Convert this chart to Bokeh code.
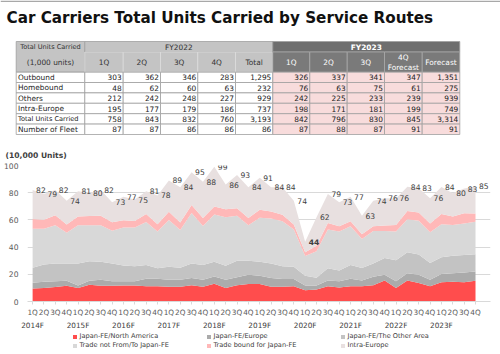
from bokeh.plotting import figure
from bokeh.layouts import column
from bokeh.models import (Range1d, FixedTicker, LinearAxis, ColumnDataSource, LabelSet)
from bokeh.core.properties import value
from bokeh.embed import file_html
from bokeh.resources import INLINE

FONT = "DejaVu Sans"

TITLE = "Car Carriers Total Units Carried by Service Routes"

# ---------------- table data (1,000 units) ----------------
table_rows = ["Outbound", "Homebound", "Others", "Intra-Europe",
              "Total Units Carried", "Number of Fleet"]
fy2022_cols = ["1Q", "2Q", "3Q", "4Q", "Total"]
fy2023_cols = ["1Q", "2Q", "3Q", "4Q|Forecast", "Forecast"]
outbound_row = [303, 362, 346, 283, 1295, 326, 337, 341, 347, 1351]
homebound_row = [48, 62, 60, 63, 232, 76, 63, 75, 61, 275]
others_row = [212, 242, 248, 227, 929, 242, 225, 233, 239, 939]
intra_europe_row = [195, 177, 179, 186, 737, 198, 171, 181, 199, 749]
total_row = [758, 843, 832, 760, 3193, 842, 796, 830, 845, 3314]
fleet_row = [87, 87, 86, 86, 86, 87, 88, 87, 91, 91]

# ---------------- chart data (10,000 units) ----------------
fiscal_years = ["2014F", "2015F", "2016F", "2017F", "2018F",
                "2019F", "2020F", "2021F", "2022F", "2023F"]
quarters = ["1Q", "2Q", "3Q", "4Q"]

japan_north_america = [9.6, 10.0, 10.6, 11.5, 10.0, 12.4, 11.5, 11.5, 11.7, 11.7,
                       11.2, 11.2, 10.8, 10.8, 12.0, 10.8, 13.1, 10.0, 12.0, 12.9,
                       12.9, 10.8, 10.8, 11.2, 8.3, 8.8, 11.2, 10.3, 11.2, 11.2,
                       12.0, 15.5, 10.0, 15.5, 13.6, 11.2, 14.1, 14.6, 14.1, 15.3]
japan_europe = [4.2, 4.5, 4.2, 3.8, 1.7, 2.9, 4.5, 3.3, 3.1, 3.1,
                5.5, 5.5, 5.2, 5.2, 5.2, 5.2, 5.3, 6.0, 5.9, 6.7,
                6.0, 6.4, 5.7, 5.3, 3.4, 2.9, 4.3, 4.5, 5.6, 4.3,
                6.2, 4.1, 4.8, 5.3, 6.0, 4.8, 6.2, 6.2, 7.2, 6.7]
japan_other_area = [11.1, 12.7, 13.2, 12.7, 16.3, 14.3, 13.2, 13.2, 11.7, 11.2,
                    10.1, 7.7, 9.6, 8.9, 10.8, 10.8, 10.8, 10.3, 12.0, 10.3,
                    10.3, 10.8, 9.5, 9.1, 7.3, 5.8, 8.9, 8.0, 10.0, 9.1,
                    9.8, 12.4, 15.5, 15.4, 15.0, 12.3, 12.3, 12.9, 12.8, 12.7]
trade_not_japan = [28.6, 26.3, 28.0, 22.5, 28.0, 26.4, 26.8, 24.0, 28.0, 28.5,
                   31.7, 27.1, 34.4, 27.6, 37.0, 28.7, 34.8, 35.7, 33.1, 26.1,
                   32.3, 33.0, 33.0, 27.4, 14.5, 19.5, 28.6, 28.7, 28.6, 21.4,
                   23.8, 19.9, 21.2, 24.2, 24.8, 22.7, 24.2, 22.5, 23.3, 23.9]
trade_bound_japan = [7.2, 6.7, 7.5, 6.1, 6.5, 6.8, 7.0, 6.3, 5.3, 4.7,
                     5.8, 5.3, 6.0, 5.5, 6.0, 5.9, 5.8, 5.9, 5.6, 5.4,
                     5.9, 5.2, 4.8, 3.6, 2.8, 4.0, 4.8, 3.9, 3.6, 3.5,
                     3.6, 4.0, 4.8, 6.2, 6.0, 6.3, 7.6, 6.3, 7.5, 6.1]
intra_europe = [21.3, 18.8, 18.5, 17.4, 18.5, 17.2, 19.0, 14.7, 17.2, 15.8,
                16.7, 21.2, 23.0, 26.0, 24.0, 26.6, 29.2, 18.1, 24.4, 22.6,
                23.6, 17.8, 20.2, 17.4, 7.7, 21.0, 21.2, 17.6, 18.0, 13.5,
                18.6, 20.1, 19.5, 17.7, 17.9, 18.6, 19.8, 17.1, 18.1, 19.9]
total_labels = [82, 79, 82, 74, 81, 80, 82, 73, 77, 75,
                81, 78, 89, 84, 95, 88, 99, 86, 93, 84,
                91, 84, 84, 74, 44, 62, 79, 73, 77, 63,
                74, 76, 76, 84, 83, 76, 84, 80, 83, 85]

series_names = ["Japan-FE/North America", "Japan-FE/Europe", "Japan-FE/The Other Area",
                "Trade not From/To Japan-FE", "Trade bound for Japan-FE", "Intra-Europe"]
series_colors = ["#ff4d4d", "#ababab", "#c3c3c3", "#d8d8d8", "#ffb8b8", "#e8e0e0"]
stack_cols = ["s0", "s1", "s2", "s3", "s4", "s5"]


def no_align(fig):
    if "frame_align" in fig.properties():
        fig.frame_align = False


def bare(fig):
    no_align(fig)
    fig.xgrid.visible = False
    fig.ygrid.visible = False
    fig.outline_line_color = None


# ================= table figure =================
tf = figure(width=500, height=140, x_range=Range1d(0, 500), y_range=Range1d(140, 0),
            output_backend="svg", toolbar_location=None, min_border=0,
            x_axis_location=None, y_axis_location=None)
bare(tf)

tf.quad(left=[0], right=[500], top=[0], bottom=[1.5], fill_color="#a8a8a8", line_color=None)
tf.text(x=[6], y=[17.5], text=[TITLE], text_font=value(FONT), text_font_style="bold",
        text_font_size="15.2px", text_color="#111111", text_baseline="alphabetic")

col_x = [15.7, 84.3, 122.7, 160.0, 197.3, 235.0, 272.3, 309.3, 346.7, 384.0, 421.7, 459.3]
row_y = [41.0, 51.5, 71.7, 82.0, 92.4, 102.8, 113.2, 123.6, 134.0]
grid_col = "#a0a0a0"

# header cells
tf.quad(left=[col_x[0]], right=[col_x[1]], top=[row_y[0]], bottom=[row_y[2]],
        fill_color="#c4c4c4", line_color=grid_col, line_width=0.8)
tf.quad(left=[col_x[1]], right=[col_x[6]], top=[row_y[0]], bottom=[row_y[1]],
        fill_color="#c4c4c4", line_color=grid_col, line_width=0.8)
tf.quad(left=col_x[1:6], right=col_x[2:7], top=[row_y[1]] * 5, bottom=[row_y[2]] * 5,
        fill_color="#c4c4c4", line_color="#dcdcdc", line_width=0.8)
tf.quad(left=[col_x[6]], right=[col_x[11]], top=[row_y[0]], bottom=[row_y[1]],
        fill_color="#6e6e6e", line_color=grid_col, line_width=0.8)
tf.quad(left=col_x[6:11], right=col_x[7:12], top=[row_y[1]] * 5, bottom=[row_y[2]] * 5,
        fill_color="#7a7a7a", line_color="#a8a8a8", line_width=0.8)

# body cells
rows_data = [outbound_row, homebound_row, others_row, intra_europe_row, total_row, fleet_row]
bl, br, bt, bb, bc = [], [], [], [], []
for r in range(len(rows_data)):
    for c in range(11):
        bl.append(col_x[c]); br.append(col_x[c + 1])
        bt.append(row_y[r + 2]); bb.append(row_y[r + 3])
        bc.append("#f8dcdc" if c >= 6 else "#ffffff")
tf.quad(left=bl, right=br, top=bt, bottom=bb, fill_color=bc, line_color=grid_col, line_width=0.8)

# header texts
tf.text(x=[(col_x[0] + col_x[1]) / 2] * 2, y=[46.5, 61.5],
        text=["Total Units Carried", "(1,000 units)"], text_font=value(FONT),
        text_font_size=["6.6px", "7.4px"], text_color="#333333",
        text_align="center", text_baseline="middle")
tf.text(x=[(col_x[1] + col_x[6]) / 2], y=[46.5], text=["FY2022"], text_font=value(FONT),
        text_font_size="7.4px", text_color="#333333", text_align="center", text_baseline="middle")
tf.text(x=[(col_x[6] + col_x[11]) / 2], y=[46.5], text=["FY2023"], text_font=value(FONT),
        text_font_size="7.4px", text_font_style="bold", text_color="#ffffff",
        text_align="center", text_baseline="middle")
hx, hy, ht, hc = [], [], [], []
for i, lab in enumerate(fy2022_cols + fy2023_cols):
    cx = (col_x[i + 1] + col_x[i + 2]) / 2
    parts = lab.split("|")
    if len(parts) == 1:
        hx.append(cx); hy.append(61.5); ht.append(lab)
        hc.append("#333333" if i < 5 else "#ffffff")
    else:
        for k, part in enumerate(parts):
            hx.append(cx); hy.append(56.5 + 10 * k); ht.append(part)
            hc.append("#ffffff")
tf.text(x=hx, y=hy, text=ht, text_font=value(FONT), text_font_size="7.4px",
        text_color=hc, text_align="center", text_baseline="middle")

# body texts
lx, ly, lt, ls = [], [], [], []
nx, ny, nt = [], [], []
for r, lab in enumerate(table_rows):
    cy = (row_y[r + 2] + row_y[r + 3]) / 2
    lx.append(col_x[0] + 1.8); ly.append(cy); lt.append(lab)
    ls.append("6.6px" if lab == "Total Units Carried" else "7.4px")
    for c, v in enumerate(rows_data[r]):
        nx.append(col_x[c + 2] - 1.5); ny.append(cy); nt.append(f"{v:,}")
tf.text(x=lx, y=ly, text=lt, text_font=value(FONT), text_font_size=ls,
        text_color="#222222", text_baseline="middle")
tf.text(x=nx, y=ny, text=nt, text_font=value(FONT), text_font_size="7.4px",
        text_color="#222222", text_align="right", text_baseline="middle")

# ================= chart figure =================
n = len(total_labels)
xs = list(range(n))
src = ColumnDataSource(dict(x=xs, s0=japan_north_america, s1=japan_europe, s2=japan_other_area,
                            s3=trade_not_japan, s4=trade_bound_japan, s5=intra_europe))

p = figure(width=500, height=192, x_range=Range1d(-0.45, 40.32), y_range=Range1d(0, 100),
           output_backend="svg", toolbar_location=None, title="(10,000 Units)",
           min_border_left=27, min_border_right=10, min_border_top=25, min_border_bottom=28)
no_align(p)
p.outline_line_color = None
p.xgrid.visible = False
p.ygrid.grid_line_color = "#d9d9d9"
p.ygrid.ticker = FixedTicker(ticks=[0, 20, 40, 60, 80, 100])

p.title.align = "left"
p.title.offset = -22
p.title.standoff = 12
p.title.text_font = FONT
p.title.text_font_size = "7.6px"
p.title.text_font_style = "bold"
p.title.text_color = "#404040"

p.varea_stack(stackers=stack_cols, x="x", color=series_colors, source=src)

# total labels (to the right of each point)
tops = [sum(v) for v in zip(japan_north_america, japan_europe, japan_other_area,
                            trade_not_japan, trade_bound_japan, intra_europe)]
lab_src = ColumnDataSource(dict(x=xs, y=tops, t=[str(v) for v in total_labels],
                                style=["bold" if v < 50 else "normal" for v in total_labels]))
p.add_layout(LabelSet(x="x", y="y", text="t", source=lab_src, x_offset=3.5,
                      text_font=value(FONT), text_font_size="7.6px", text_color="#404040",
                      text_font_style="style",
                      text_baseline="middle", text_align="left"))

p.yaxis.ticker = FixedTicker(ticks=[0, 20, 40, 60, 80, 100])
p.yaxis.axis_line_color = None
p.yaxis.major_tick_line_color = None
p.yaxis.minor_tick_line_color = None
p.yaxis.major_tick_out = 0
p.yaxis.major_tick_in = 0
p.yaxis.major_label_standoff = 9
p.yaxis.major_label_text_font = FONT
p.yaxis.major_label_text_font_size = "7.6px"
p.yaxis.major_label_text_color = "#595959"

xa = p.xaxis[0]
xa.ticker = FixedTicker(ticks=xs)
xa.major_label_overrides = {i: quarters[i % 4] for i in xs}
xa.axis_line_color = "#d9d9d9"
xa.major_tick_line_color = "#d9d9d9"
xa.minor_tick_line_color = None
xa.major_tick_in = 0
xa.major_tick_out = 3
xa.major_label_standoff = 3
xa.major_label_text_font = FONT
xa.major_label_text_font_size = "7.3px"
xa.major_label_text_color = "#595959"

year_ticks = [i * 4 for i in range(len(fiscal_years))]
xa2 = LinearAxis(ticker=FixedTicker(ticks=year_ticks),
                 major_label_overrides={t: fiscal_years[k] for k, t in enumerate(year_ticks)})
xa2.axis_line_color = None
xa2.major_tick_line_color = None
xa2.minor_tick_line_color = None
xa2.major_tick_in = 0
xa2.major_tick_out = 0
xa2.major_label_standoff = 1
xa2.major_label_text_font = FONT
xa2.major_label_text_font_size = "7.3px"
xa2.major_label_text_color = "#404040"
p.add_layout(xa2, "below")

# ================= legend figure (same series, out of its view) =================
lf = figure(width=500, height=22, x_range=Range1d(-100, -99), y_range=Range1d(0, 1),
            output_backend="svg", toolbar_location=None, min_border=0,
            x_axis_location=None, y_axis_location=None)
bare(lf)
lf.varea_stack(stackers=stack_cols, x="x", color=series_colors,
               legend_label=series_names, source=src)

lg = lf.legend[0]
lg.orientation = "horizontal"
lg.ncols = 3
lg.location = (71.5, 4.5)
lg.glyph_width = 5
lg.glyph_height = 5
lg.label_standoff = 3
lg.label_width = 126
lg.label_height = 9
lg.spacing = 0
lg.padding = 0
lg.margin = 0
lg.background_fill_alpha = 0
lg.border_line_color = None
lg.label_text_font = FONT
lg.label_text_font_size = "6.6px"
lg.label_text_color = "#404040"

layout = column(tf, p, lf, spacing=0)
open("out.html", "w").write(file_html(layout, INLINE))
